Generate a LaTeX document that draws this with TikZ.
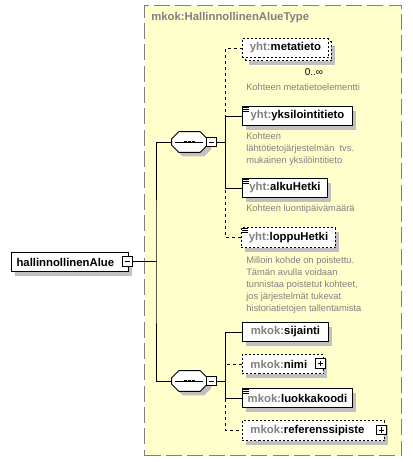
\documentclass[tikz,border=0pt]{standalone}
\usepackage{fontspec}
\setmainfont{Liberation Sans}
\usetikzlibrary{calc}
\definecolor{typefill}{RGB}{255,255,204}
\definecolor{typeborder}{RGB}{128,128,128}
\definecolor{shd}{RGB}{192,192,192}
\definecolor{pfx}{RGB}{128,128,128}
\definecolor{desc}{RGB}{128,128,128}
\newcommand{\nmfont}{\fontsize{8.5}{10}\selectfont\bfseries}
\newcommand{\dscfont}{\fontsize{7}{9}\selectfont}
\newcommand{\pf}[1]{\textcolor{pfx}{#1}}
\newcommand{\docicon}[1]{\draw[line width=0.6pt]
  ($(#1.north west)+(1.5,1.5)$) -- +(5.5,0)
  ($(#1.north west)+(1.5,3.5)$) -- +(5.5,0)
  ($(#1.north west)+(1.5,5.5)$) -- +(5.5,0);}
\newcommand{\seqshape}[3]{%
  \node[seqbox] (#1) at (#2,#3) {};
  \draw[shadowed, fill=white, line width=0.75pt]
    ($(#1.north west)+(7,0)$) -- ($(#1.north east)+(-7,0)$) --
    ($(#1.north east)+(0,7)$) -- ($(#1.south east)+(0,-7)$) --
    ($(#1.south east)+(-7,0)$) -- ($(#1.south west)+(7,0)$) --
    ($(#1.south west)+(0,-7)$) -- ($(#1.north west)+(0,7)$) -- cycle;
  \draw[line width=0.75pt] ($(#1.west)+(3,0)$) -- ($(#1.east)+(-4,0)$);
  \fill ($(#1.center)+(-5.5,-1.3)$) rectangle +(2.6,2.6);
  \fill ($(#1.center)+(-1.3,-1.3)$) rectangle +(2.6,2.6);
  \fill ($(#1.center)+(2.9,-1.3)$) rectangle +(2.6,2.6);
}
\begin{document}
\begin{tikzpicture}[x=0.75pt,y=-0.75pt,
  shadowed/.style={preaction={fill=shd, transform canvas={shift={(3pt,-3pt)}}}},
  box/.style={draw=black, fill=white, line width=0.75pt, minimum height=14.25pt,
    inner xsep=0pt, inner ysep=0pt, font=\nmfont, anchor=north west},
  elem/.style={box, shadowed},
  dashbox/.style={dash pattern=on 1.5pt off 1.5pt},
  optelem/.style={elem, dashbox},
  conn/.style={line width=0.75pt},
  optconn/.style={conn, dash pattern=on 2.25pt off 2.25pt},
  dsc/.style={font=\dscfont, text=desc, anchor=north west, align=left, inner sep=0pt},
  seqbox/.style={minimum width=26.25pt, minimum height=15pt, inner sep=0pt},
  minusbox/.style={draw=black, fill=white, line width=0.75pt, minimum size=7pt, inner sep=0pt,
    path picture={\draw[line width=0.75pt] ($(path picture bounding box.west)+(2,0)$) -- ($(path picture bounding box.east)+(-2,0)$);}},
  plusbox/.style={draw=black, fill=white, line width=0.75pt, minimum size=7pt, inner sep=0pt,
    path picture={\draw[line width=0.75pt] ($(path picture bounding box.west)+(2,0)$) -- ($(path picture bounding box.east)+(-2,0)$)
      ($(path picture bounding box.north)+(0,2)$) -- ($(path picture bounding box.south)+(0,-2)$);}},
]
\useasboundingbox (0,0) rectangle (412,462);

% type container
\node (typebox) [draw=typeborder, fill=typefill, line width=1pt, dash pattern=on 12pt off 4pt,
  minimum width=192.75pt, minimum height=337.5pt, anchor=north west, inner sep=0pt] at (144,5) {};
\node (title) [anchor=west, inner sep=0pt, font=\nmfont, text=pfx] at (151,18) {mkok:HallinnollinenAlueType};

% root element
\node (root) [elem, minimum width=87.75pt, minimum height=14.5pt] at (11,252) {hallinnollinenAlue\hspace*{7pt}};
\node (rootM) [minusbox] at (127.5,261.5) {};
\coordinate (trunk) at (157,261.5);

% sequences
\seqshape{seqA}{189.5}{142}
\node (seqAM) [minusbox] at (211.5,142) {};
\coordinate (hubA) at (226,142);
\seqshape{seqB}{189.5}{381}
\node (seqBM) [minusbox] at (211.5,381) {};
\coordinate (hubB) at (226,381);

% upper children
\node (metaback) [optelem, minimum width=64.5pt] at (245,41) {};
\node (meta) [box, dashbox, minimum width=64.5pt] at (242,38) {\pf{yht:}metatieto};
\node (metaocc) [font=\fontsize{7.5}{9}\selectfont, inner sep=0pt] at (314,72) {0..∞};
\node (metad) [dsc] at (246,83.5) {Kohteen metatietoelementti};

\node (yks) [elem, minimum width=82.5pt] at (242,106) {\pf{yht:}yksilointitieto};
\docicon{yks}
\node (yksd) [dsc] at (246,132.5) {Kohteen\\lähtötietojärjestelmän\ \ tvs.\\mukainen yksilöintitieto};

\node (alku) [elem, minimum width=63.75pt] at (242,178) {\pf{yht:}alkuHetki};
\docicon{alku}
\node (alkud) [dsc] at (246,204.5) {Kohteen luontipäivämäärä};

\node (loppu) [optelem, minimum width=70.5pt, minimum height=15pt] at (241,227) {\pf{yht:}loppuHetki};
\docicon{loppu}
\node (loppud) [dsc] at (246,256.5) {Milloin kohde on poistettu.\\Tämän avulla voidaan\\tunnistaa poistetut kohteet,\\jos järjestelmät tukevat\\historiatietojen tallentamista};

% lower children
\node (sij) [elem, minimum width=64.5pt] at (242,322) {\pf{mkok:}sijainti};
\node (nimi) [optelem, minimum width=60.75pt, text width=48.75pt, align=left] at (242,354) {\mbox{\pf{mkok:}nimi}};
\node (nimiP) [plusbox] at (320.5,363.5) {};
\node (luok) [elem, minimum width=82.5pt] at (242,388) {\pf{mkok:}luokkakoodi};
\docicon{luok}
\node (ref) [optelem, minimum width=106.5pt, minimum height=15pt, text width=94.5pt, align=left] at (242,420) {\mbox{\pf{mkok:}referenssipiste}};
\node (refP) [plusbox] at (381.5,430) {};

% connectors
\draw[conn] (rootM.east) -- (trunk);
\draw[conn] (seqA.west) -| (trunk) |- (seqB.west);
\draw[conn] (seqAM.east) -- (hubA);
\draw[conn] (seqBM.east) -- (hubB);
\draw[optconn] (hubA) |- (meta.west);
\draw[optconn] (hubA) |- (loppu.west);
\draw[conn] (hubA) |- (yks.west);
\draw[conn] (hubA) |- (alku.west);
\draw[optconn] (hubB) |- (nimi.west);
\draw[optconn] (hubB) |- (ref.west);
\draw[conn] (hubB) |- (sij.west);
\draw[conn] (hubB) |- (luok.west);
\end{tikzpicture}
\end{document}
